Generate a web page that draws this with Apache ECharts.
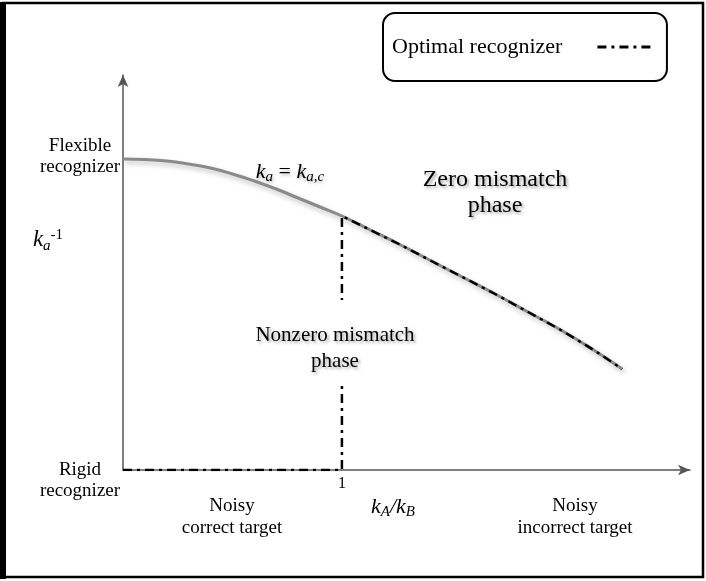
<!DOCTYPE html>
<html>
<head>
<meta charset="utf-8">
<script src="https://cdn.jsdelivr.net/npm/echarts@6/dist/echarts.min.js"></script>
<style>html,body{margin:0;padding:0;background:#fff;}#c{width:706px;height:581px;}</style>
</head>
<body>
<div id="c"></div>
<script>
// Critical boundary k_a = k_a,c : x = k_A/k_B, y = k_a^-1 (arbitrary units)
const curveX = [0, 0.1, 0.2, 0.3, 0.4, 0.5, 0.6, 0.7, 0.8, 0.9, 1.0, 1.13, 1.26, 1.4, 1.55, 1.7, 1.85, 2.0, 2.15, 2.28];
const curveY = [3.11, 3.105, 3.09, 3.06, 3.02, 2.96, 2.89, 2.81, 2.72, 2.63, 2.54, 2.40, 2.26, 2.10, 1.93, 1.76, 1.58, 1.40, 1.20, 1.01];
// Optimal recognizer path: along x axis to 1, up to the boundary, then along it
const optX = [0, 1, 1];
const optY = [0, 0, 2.54];
const xTickLabels = {1: '1'};
const seriesNames = ['Critical boundary', 'Optimal recognizer'];

const curve = curveX.map((x, i) => [x, curveY[i]]);
const optimal = optX.map((x, i) => [x, optY[i]]).concat(curve.filter(p => p[0] > 1));

const serif = '"Liberation Serif", "DejaVu Serif", serif';
const chart = echarts.init(document.getElementById('c'));

function txt(x, y, text, size, extra) {
  return {
    type: 'text', x: x, y: y, z: 100,
    style: Object.assign({
      text: text, fill: '#000', fontSize: size, fontFamily: serif,
      align: 'center', verticalAlign: 'middle'
    }, extra || {})
  };
}
const shadow = {textShadowColor: 'rgba(0,0,0,0.35)', textShadowBlur: 3, textShadowOffsetX: 2, textShadowOffsetY: 2};
const dash = [9, 5, 3, 5];

chart.setOption({
  animation: false,
  backgroundColor: '#fff',
  grid: {left: 123, top: 75, width: 567, height: 395},
  xAxis: {
    type: 'value', min: 0, max: 2.59, interval: 1,
    axisLine: {show: true, lineStyle: {color: '#555', width: 1.5}, symbol: ['none', 'arrow'], symbolSize: [8, 12]},
    axisTick: {show: false}, splitLine: {show: false},
    axisLabel: {formatter: v => xTickLabels[v] || '', fontFamily: serif, fontSize: 16, color: '#000', margin: 6}
  },
  yAxis: {
    type: 'value', min: 0, max: 3.95,
    axisLine: {show: true, lineStyle: {color: '#555', width: 1.5}, symbol: ['none', 'arrow'], symbolSize: [8, 12]},
    axisTick: {show: false}, splitLine: {show: false}, axisLabel: {show: false}
  },
  legend: {
    data: [seriesNames[1]], left: 383, top: 13, orient: 'horizontal', align: 'right',
    borderColor: '#000', borderWidth: 2, borderRadius: 12,
    padding: [23, 12, 23, 9], itemWidth: 56, itemHeight: 14, itemGap: 10,
    textStyle: {fontFamily: serif, fontSize: 22, color: '#000', padding: [0, 30, 0, 0]},
    itemStyle: {color: 'rgba(0,0,0,0)', opacity: 0, borderWidth: 0},
    lineStyle: {type: dash, width: 3, color: '#000'}
  },
  series: [
    {
      name: seriesNames[0], type: 'line', data: curve, smooth: true, symbol: 'none', z: 2,
      lineStyle: {color: '#8a8a8a', width: 3, shadowColor: 'rgba(0,0,0,0.25)', shadowBlur: 5, shadowOffsetX: 2, shadowOffsetY: 3}
    },
    {
      name: seriesNames[1], type: 'line', data: optimal, smooth: false, symbol: 'none', z: 3,
      lineStyle: {color: '#000', width: 2.5, type: dash}, itemStyle: {color: '#000'}
    }
  ],
  graphic: [
    {type: 'rect', z: 100, shape: {x: 3, y: 3, width: 700, height: 574}, style: {fill: 'none', stroke: '#000', lineWidth: 2.5}},
    {type: 'rect', z: 100, shape: {x: 0, y: 2, width: 6, height: 577}, style: {fill: '#000'}},
    txt(80, 146, 'Flexible', 19),
    txt(80, 167, 'recognizer', 19),
    txt(80, 470, 'Rigid', 19),
    txt(80, 491, 'recognizer', 19),
    txt(232, 506, 'Noisy', 19),
    txt(232, 528, 'correct target', 19),
    txt(575, 506, 'Noisy', 19),
    txt(575, 528, 'incorrect target', 19),
    {
      type: 'text', x: 393, y: 507, z: 100,
      style: {
        text: '{i|k}{s|A}{i|/k}{s|B}', align: 'center', verticalAlign: 'middle',
        rich: {
          i: {fontFamily: serif, fontStyle: 'italic', fontSize: 22, color: '#000'},
          s: {fontFamily: serif, fontStyle: 'italic', fontSize: 15, color: '#000', padding: [10, 0, 0, 0]}
        }
      }
    },
    {
      type: 'text', x: 48, y: 240, z: 100,
      style: {
        text: '{i|k}{s|a}{p|-1}', align: 'center', verticalAlign: 'middle',
        rich: {
          i: {fontFamily: serif, fontStyle: 'italic', fontSize: 23, color: '#000'},
          s: {fontFamily: serif, fontStyle: 'italic', fontSize: 15, color: '#000', padding: [12, 0, 0, 0]},
          p: {fontFamily: serif, fontSize: 15, color: '#000', padding: [0, 0, 10, 0]}
        }
      }
    },
    {
      type: 'text', x: 290, y: 172, z: 100,
      style: {
        text: '{i|k}{s|a}{n| = }{i|k}{s|a,c}', align: 'center', verticalAlign: 'middle',
        rich: {
          i: {fontFamily: serif, fontStyle: 'italic', fontSize: 22, color: '#000', textShadowColor: 'rgba(0,0,0,0.3)', textShadowBlur: 3, textShadowOffsetX: 1, textShadowOffsetY: 2},
          s: {fontFamily: serif, fontStyle: 'italic', fontSize: 15, color: '#000', padding: [11, 0, 0, 0], textShadowColor: 'rgba(0,0,0,0.3)', textShadowBlur: 3, textShadowOffsetX: 1, textShadowOffsetY: 2},
          n: {fontFamily: serif, fontSize: 22, color: '#000', textShadowColor: 'rgba(0,0,0,0.3)', textShadowBlur: 3, textShadowOffsetX: 1, textShadowOffsetY: 2}
        }
      }
    },
    txt(495, 180, 'Zero mismatch', 24, shadow),
    txt(495, 206, 'phase', 24, shadow),
    {type: 'rect', z: 99, shape: {x: 336, y: 300, width: 12, height: 86}, style: {fill: '#fff'}},
    txt(335, 335, 'Nonzero mismatch', 21, shadow),
    txt(335, 361, 'phase', 21, shadow)
  ]
});
</script>
</body>
</html>
